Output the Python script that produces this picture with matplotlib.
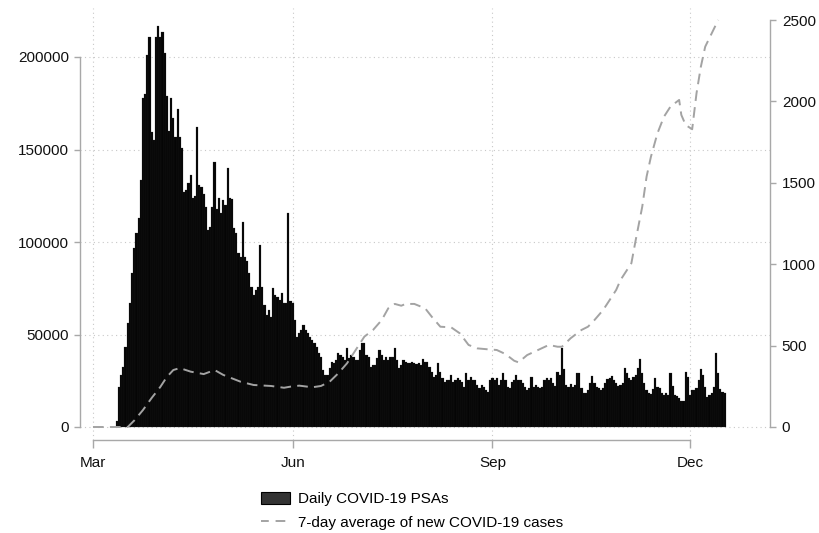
import numpy as np
import pandas as pd
import matplotlib
matplotlib.use("Agg")
import matplotlib.pyplot as plt
import matplotlib.dates as mdates
from matplotlib.patches import Patch
from matplotlib.lines import Line2D

plt.rcParams['font.family'] = ['Liberation Sans', 'DejaVu Sans']

# ---------------- data ----------------
psa_start = "2020-03-12"
psa_values = [
    3000, 21600, 28000, 32400, 43000, 56000, 67000, 83000, 96500, 105000,
    113000, 133500, 178000, 180000, 201000,
    211000, 159500, 155000, 211000, 217000, 211000, 213500, 202000, 179000, 160000,
    178000, 167000, 157000, 172000, 157000, 151000, 127000, 128000, 132000, 136000,
    124000, 125000, 162000, 131000, 130000, 126000, 119000, 106500, 108000, 119000,
    143000, 118000, 124000, 115500, 122700, 120000, 140000, 123700, 123000, 107500,
    105000, 94000, 92000, 111000, 92000, 90000, 83000, 75700, 71300, 74000,
    75700, 98400, 75700, 66000, 60500, 63000, 59500, 75000, 71300, 70300,
    68600, 72300, 67000, 67000, 115500,
    68000, 67000, 57800, 48600, 50800, 52400, 55000, 52400, 50800, 48600,
    47000, 45400, 43000,
    40000, 38000, 30800, 28100, 28100, 31900, 35300, 34600, 36200, 40000,
    39000, 38000, 36200, 42700, 37300, 38900, 38000, 36200, 36200, 41600,
    45400, 45400, 38900, 38000, 32600, 33500, 33500, 37300, 41600, 38900,
    36200, 38000, 36200, 38000, 38000, 42700, 36200, 31900, 33500, 36200,
    35300, 34600, 34600, 34900, 34600,
    34000, 34600, 33500, 36700, 35300, 34900, 32600, 29900, 27200, 28100,
    34600, 29900, 26500, 24500, 25400, 25400, 28100, 24500, 25400, 26500,
    25400, 24500, 21800, 29200, 25400, 27200, 25400, 25400, 22700, 21100,
    22700, 21800, 20000, 19100, 25400, 26500, 25400, 26500, 22700, 25400,
    29200, 25400, 21800, 21100, 24500, 25400, 28100, 25400, 25400, 23600,
    21800, 20000, 21100, 27200, 21800, 22700, 21800, 21100, 21800, 25400,
    26500, 25400, 26500, 23600,
    22200, 29900,
    28100, 42500, 31200, 22700, 21800, 23200, 21800, 22700, 29400, 29000,
    20900, 18500, 18500, 20000, 23600, 27600, 23600, 21400, 20900, 20000,
    20900, 23600, 25800, 26300, 27600, 25400, 23600, 22200, 22700,
    24000, 31700, 29000, 26300, 25400, 27200, 28100, 31700, 36600, 29000,
    23600, 20000, 18200, 17800, 20400, 26300, 21400, 20900, 18200, 17300,
    18500, 17300, 29400, 22200, 17300, 16700, 15500, 14200, 14200, 29900,
    27200, 17300, 20000, 20000, 20900, 25400, 31200, 28100, 21800, 16000,
    17300, 18500, 21400, 39800, 29400, 20400, 19100, 18200,
]

# 7-day average of new cases (days since 2020-03-01, value)
case_days = [0, 16, 19, 23, 27, 31, 34, 37, 40, 45, 51, 56, 60, 68, 74, 82, 88,
             91, 95, 101, 105, 109, 113, 117, 121, 125, 129, 133, 136, 139, 142,
             144, 148, 153, 156, 160, 165, 169, 173, 177, 182, 186, 190, 194, 196,
             200, 205, 210, 214, 216, 220, 225, 228, 231, 235, 238, 241, 243, 248,
             250, 253, 255, 257, 260, 263, 266, 270, 271, 273, 276, 278, 280, 282,
             285, 288]
case_values = [0, 0, 40, 104, 178, 246, 307, 350, 362, 340, 325, 350, 320, 278, 258,
               252, 241, 248, 254, 244, 252, 278, 330, 391, 473, 555, 596, 657, 729,
               756, 745, 756, 756, 729, 678, 616, 612, 575, 504, 483, 477, 473, 448,
               407, 397, 442, 473, 504, 493, 493, 545, 596, 616, 657, 719, 780, 842,
               903, 1006, 1149, 1353, 1538, 1660, 1804, 1906, 1968, 2009, 1917, 1855,
               1829, 2050, 2213, 2336, 2418, 2500]

month_ticks = ["2020-03-01", "2020-06-01", "2020-09-01", "2020-12-01"]
month_labels = ["Mar", "Jun", "Sep", "Dec"]
left_ticks = [0, 50000, 100000, 150000, 200000]
right_ticks = [0, 500, 1000, 1500, 2000, 2500]

bar_label = "Daily COVID-19 PSAs"
line_label = "7-day average of new COVID-19 cases"

# ---------------- figure ----------------
W, H = 820, 533
fig = plt.figure(figsize=(W / 100, H / 100), dpi=100)

ax_l, ax_r, ax_t, ax_b = 80, 770, 8, 440
ax = fig.add_axes([ax_l / W, 1 - ax_b / H, (ax_r - ax_l) / W, (ax_b - ax_t) / H])
ax2 = ax.twinx()

base = pd.Timestamp("2020-03-01")
bar_dates = pd.date_range(psa_start, periods=len(psa_values), freq="D")
line_dates = base + pd.to_timedelta(case_days, unit="D")

ax.bar(bar_dates, psa_values, width=1.0, color="#050505", edgecolor="#2a2a2a",
       linewidth=0.15, zorder=2)
ax2.plot(line_dates, case_values, color="#a3a3a3", lw=1.4,
         linestyle=(0, (5.5, 3.2)), zorder=3)

# scales: 0 at y=427px, 200000 at 57px (left); 2500 at 20px (right)
px_left = 200000 / (427 - 57)
px_right = 2500 / (427 - 20)
ax.set_ylim(-(ax_b - 427) * px_left, (427 - ax_t) * px_left)
ax2.set_ylim(-(ax_b - 427) * px_right, (427 - ax_t) * px_right)

px_day = (690 - 93) / 275
ax.set_xlim(base - pd.Timedelta(days=(93 - ax_l) / px_day),
            base + pd.Timedelta(days=(ax_r - 93) / px_day))

tick_dates = pd.to_datetime(month_ticks)
tick_nums = mdates.date2num(tick_dates.to_pydatetime())
ax.set_xticks(tick_nums)
ax.set_xticklabels(month_labels)
ax.set_yticks(left_ticks)
ax.set_yticklabels([str(v) for v in left_ticks])
ax2.set_yticks(right_ticks)
ax2.set_yticklabels([str(v) for v in right_ticks])

spine_col = "#a8a8a8"
for a in (ax, ax2):
    for s in a.spines.values():
        s.set_color(spine_col)
        s.set_linewidth(1.0)
    a.spines["top"].set_visible(False)
ax.spines["right"].set_visible(False)
ax2.spines["left"].set_visible(False)
ax2.spines["bottom"].set_visible(False)
ax.spines["left"].set_bounds(0, 200000)
ax2.spines["right"].set_bounds(0, 2500)
ax.spines["bottom"].set_bounds(float(tick_nums[0]), float(tick_nums[-1]))

ax.tick_params(axis="x", length=5.5, width=1.0, color=spine_col, pad=6,
               labelsize=11, labelcolor="#111111")
ax.tick_params(axis="y", length=4, width=1.0, color=spine_col, pad=4,
               labelsize=11, labelcolor="#111111")
ax2.tick_params(axis="y", length=4, width=1.0, color=spine_col, pad=4.5,
                labelsize=11, labelcolor="#111111")

ax.grid(True, which="major", axis="both", linestyle=(0, (1, 3)),
        color="#c8c8c8", linewidth=0.8, zorder=0)
ax.set_axisbelow(True)
ax2.grid(False)
ax.set_facecolor("white")

handles = [Patch(facecolor="#333333", edgecolor="#000000", linewidth=0.8),
           Line2D([0], [0], color="#a3a3a3", lw=1.4, linestyle=(1, (5, 3.5)))]
fig.legend(handles, [bar_label, line_label], loc="center",
           bbox_to_anchor=(412 / W, 1 - 511 / H), frameon=False, fontsize=11,
           handlelength=1.9, handleheight=0.9, handletextpad=0.5,
           labelspacing=0.6, borderaxespad=0)

fig.savefig("out.png", dpi=100, facecolor="white")
